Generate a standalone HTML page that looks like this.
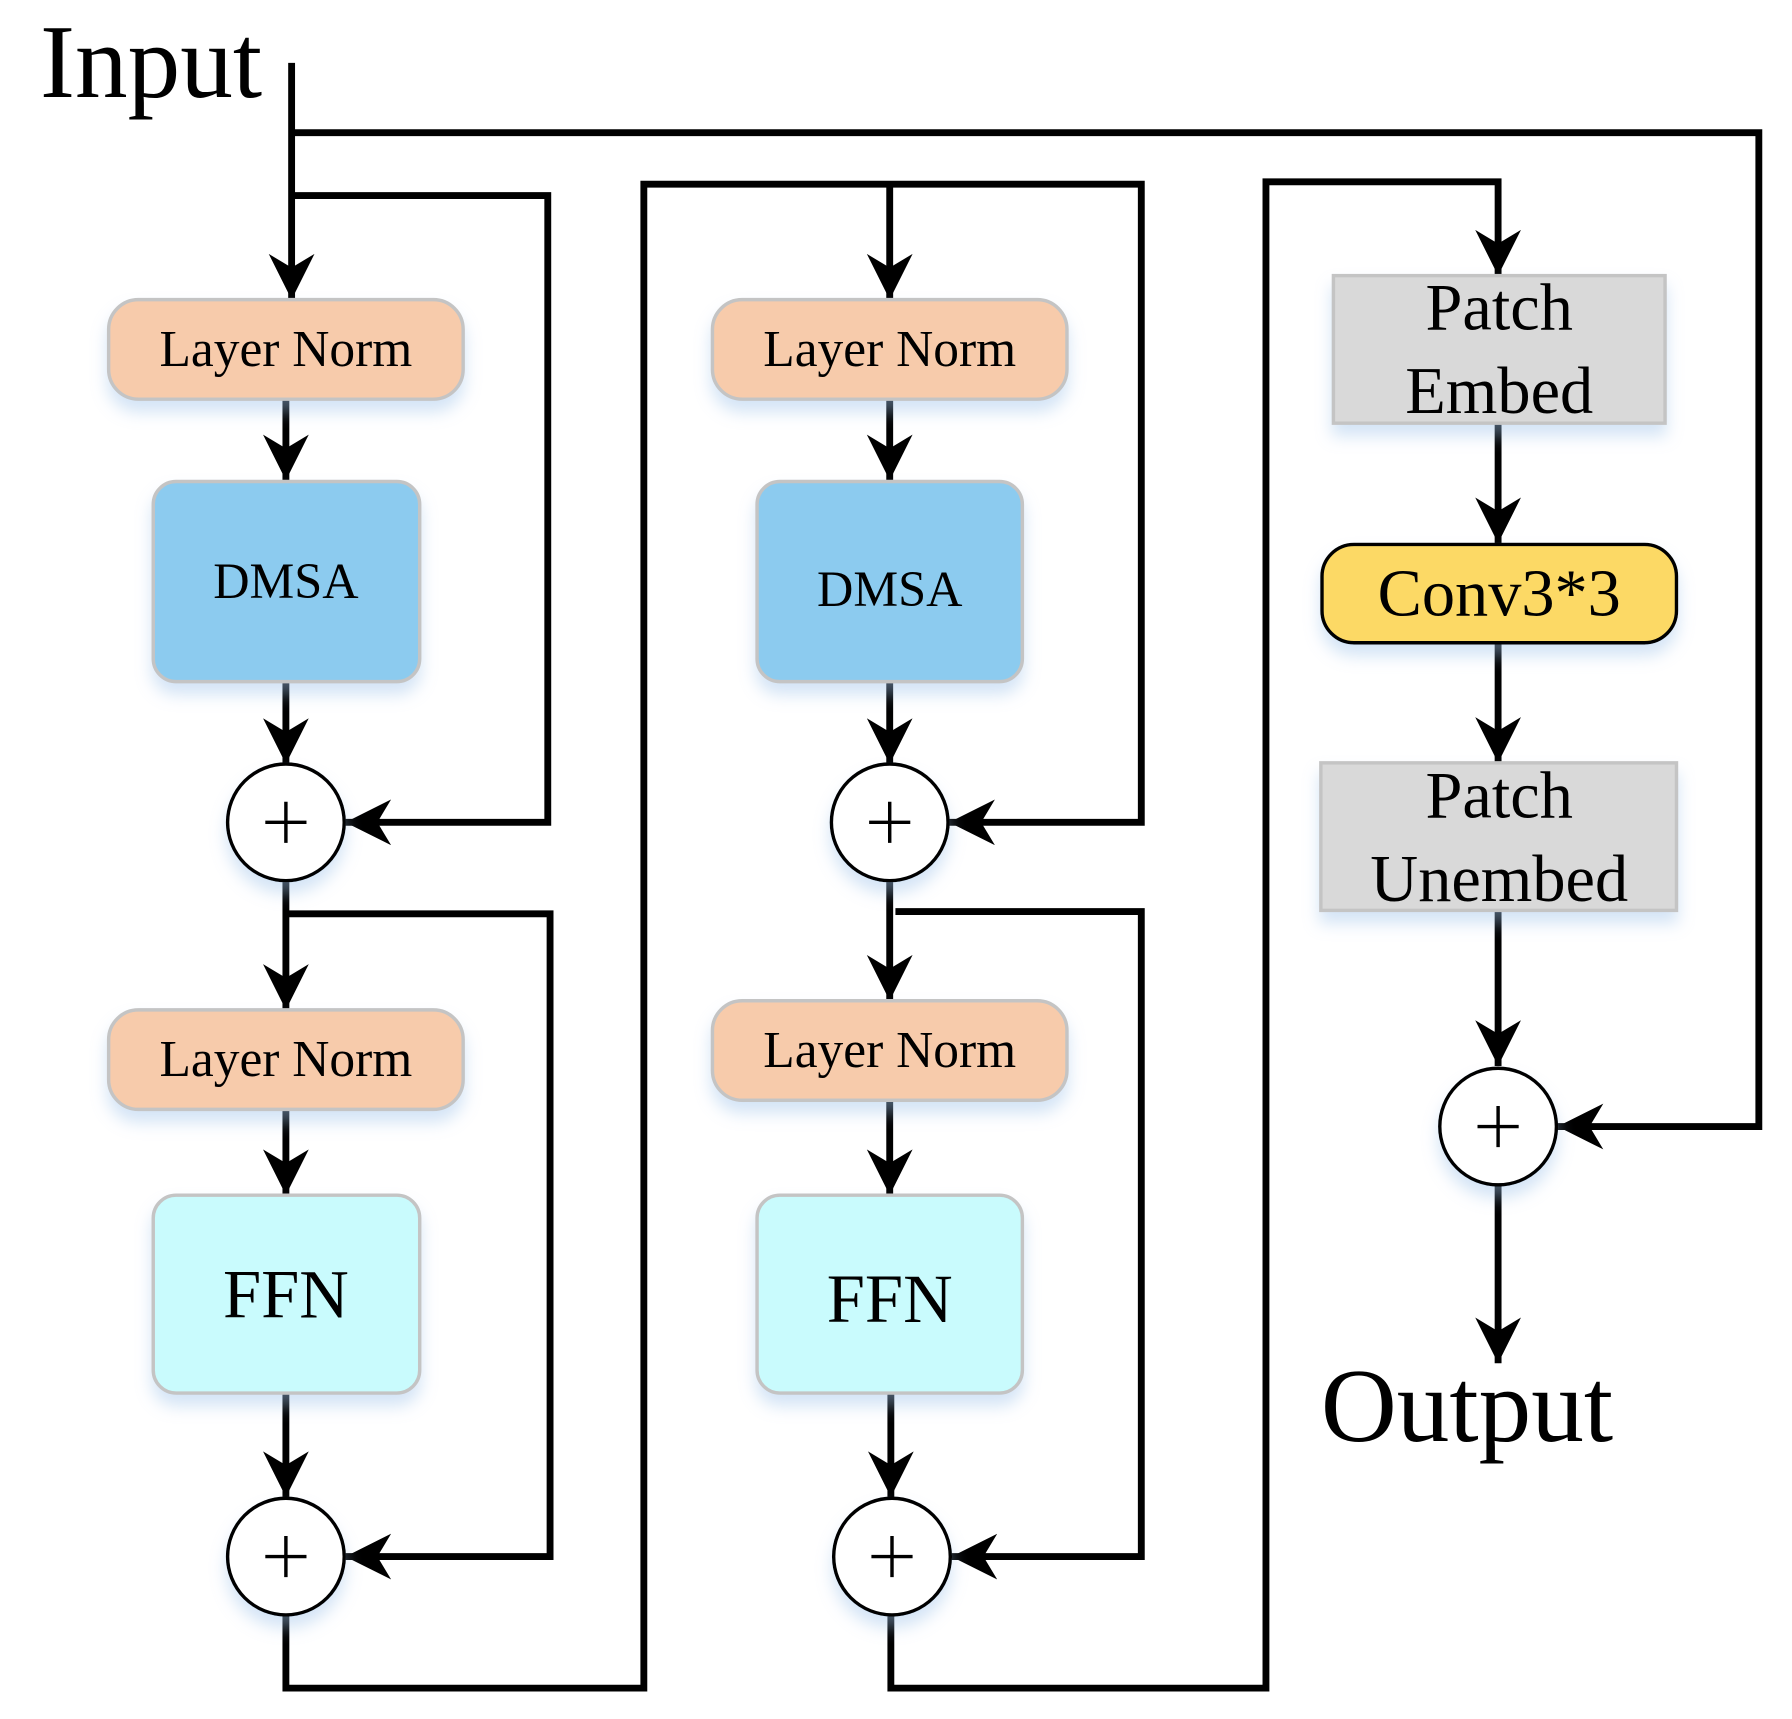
<!DOCTYPE html>
<html><head><meta charset="utf-8"><style>
html,body{margin:0;padding:0;background:#fff;}
svg{display:block;}
text{font-family:"Liberation Serif",serif;fill:#000;}
</style></head><body>
<svg width="1792" height="1719" viewBox="0 0 1567 1503" preserveAspectRatio="none" xmlns="http://www.w3.org/2000/svg">
<defs>
<marker id="a" markerWidth="44" markerHeight="44" refX="40" refY="20" orient="auto" markerUnits="userSpaceOnUse">
<path d="M0,0 L40,20 L0,40 L12,20 Z" fill="#000"/>
</marker>
<filter id="sh" x="-20%" y="-20%" width="140%" height="160%">
<feDropShadow dx="0" dy="10" stdDeviation="7" flood-color="#9fc3ea" flood-opacity="0.45"/>
</filter>
</defs>
<g fill="none" stroke="#000" stroke-width="6">
<polyline points="255,55 255,262" marker-end="url(#a)"/>
<polyline points="255,116 1538,116 1538,985 1362,985" marker-end="url(#a)"/>
<polyline points="255,171 479,171 479,719 302,719" marker-end="url(#a)"/>
<polyline points="250,349 250,420" marker-end="url(#a)"/>
<polyline points="250,596 250,668" marker-end="url(#a)"/>
<polyline points="250,770 250,883" marker-end="url(#a)"/>
<polyline points="250,799 481,799 481,1361 302,1361" marker-end="url(#a)"/>
<polyline points="250,970 250,1045" marker-end="url(#a)"/>
<polyline points="250,1218 250,1309" marker-end="url(#a)"/>
<polyline points="250,1412 250,1476 563,1476 563,161 998,161 998,719 830,719" marker-end="url(#a)"/>
<polyline points="778,161 778,262" marker-end="url(#a)"/>
<polyline points="778,349 778,420" marker-end="url(#a)"/>
<polyline points="778,596 778,668" marker-end="url(#a)"/>
<polyline points="778,770 778,875" marker-end="url(#a)"/>
<polyline points="783,797 998,797 998,1361 832,1361" marker-end="url(#a)"/>
<polyline points="778,962 778,1045" marker-end="url(#a)"/>
<polyline points="779,1218 779,1309" marker-end="url(#a)"/>
<polyline points="779,1412 779,1476 1107,1476 1107,159 1310,159 1310,241" marker-end="url(#a)"/>
<polyline points="1310,370 1310,475" marker-end="url(#a)"/>
<polyline points="1310,562 1310,667" marker-end="url(#a)"/>
<polyline points="1310,796 1310,932" marker-end="url(#a)"/>
<polyline points="1310,1036 1310,1192" marker-end="url(#a)"/>
</g>
<g filter="url(#sh)" stroke="#c4c4c4" stroke-width="3">
<rect x="95" y="262" width="310" height="87" rx="26" fill="#f7cbab"/>
<rect x="134" y="421" width="233" height="175" rx="20" fill="#8ccbef"/>
<rect x="95" y="883" width="310" height="87" rx="26" fill="#f7cbab"/>
<rect x="134" y="1045" width="233" height="173" rx="20" fill="#c9fbfd"/>
<rect x="623" y="262" width="310" height="87" rx="26" fill="#f7cbab"/>
<rect x="662" y="421" width="232" height="175" rx="20" fill="#8ccbef"/>
<rect x="623" y="875" width="310" height="87" rx="26" fill="#f7cbab"/>
<rect x="662" y="1045" width="232" height="173" rx="20" fill="#c9fbfd"/>
<rect x="1166" y="241" width="290" height="129" fill="#d9d9d9"/>
<rect x="1155" y="667" width="311" height="129" fill="#d9d9d9"/>
<rect x="1156" y="476" width="310" height="86" rx="28" fill="#fcd965" stroke="#000"/>
<circle cx="250" cy="719" r="51" fill="#fff" stroke="#000"/>
<circle cx="250" cy="1361" r="51" fill="#fff" stroke="#000"/>
<circle cx="778" cy="719" r="51" fill="#fff" stroke="#000"/>
<circle cx="780" cy="1361" r="51" fill="#fff" stroke="#000"/>
<circle cx="1310" cy="985" r="51" fill="#fff" stroke="#000"/>
</g>
<g stroke="#000" stroke-width="3">
<path d="M232,719h36M250,701v36"/>
<path d="M232,1361h36M250,1343v36"/>
<path d="M760,719h36M778,701v36"/>
<path d="M762,1361h36M780,1343v36"/>
<path d="M1292,985h36M1310,967v36"/>
</g>
<g text-anchor="middle">
<text x="250" y="320" font-size="45">Layer Norm</text>
<text x="250" y="523" font-size="44">DMSA</text>
<text x="250" y="941" font-size="45">Layer Norm</text>
<text x="250" y="1152" font-size="60">FFN</text>
<text x="778" y="320" font-size="45">Layer Norm</text>
<text x="778" y="530" font-size="44">DMSA</text>
<text x="778" y="933" font-size="45">Layer Norm</text>
<text x="778" y="1156" font-size="60">FFN</text>
<text x="1311" y="288" font-size="58">Patch</text>
<text x="1311" y="361" font-size="58">Embed</text>
<text x="1311" y="538" font-size="58">Conv3*3</text>
<text x="1311" y="715" font-size="58">Patch</text>
<text x="1311" y="788" font-size="58">Unembed</text>
</g>
<text x="35" y="85" font-size="92">Input</text>
<text x="1155" y="1260" font-size="92">Output</text>
</svg>
</body></html>
